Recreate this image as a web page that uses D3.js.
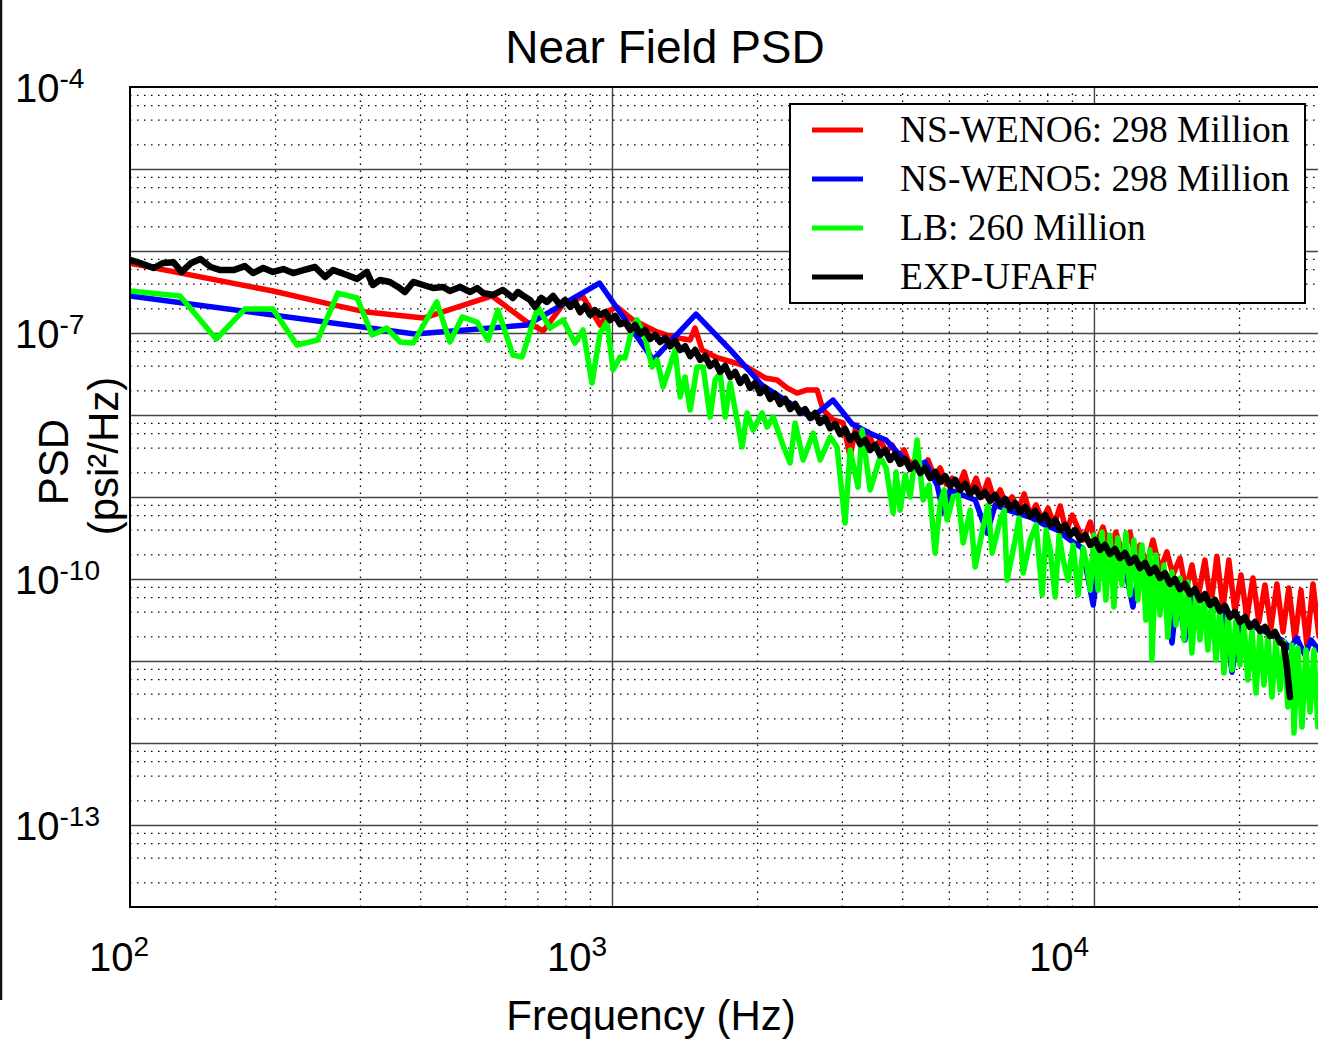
<!DOCTYPE html>
<html>
<head>
<meta charset="utf-8">
<style>
body {margin:0; background:#fff;}
svg {display:block;}
</style>
</head>
<body>
<div id="chart"></div>
<script src="https://d3js.org/d3.v7.min.js"></script>
<script>
// values: [frequency (Hz), PSD (psi^2/Hz)]
var weno6 = [[100,7.1e-7],[198,3.25e-7],[264,2.2e-7],[310,1.8e-7],[406,1.52e-7],[564,2.83e-7],[666,1.36e-7],[720,1.06e-7],[799,2.39e-7],[871,2.75e-7],
  [945,1.25e-7],[991,1.9e-7],[1024,2.08e-7],[1106,1.44e-7],[1240,1.03e-7],[1339,8.9e-8],[1453,8.2e-8],[1487,1.15e-7],[1538,6.2e-8],[1652,5.0e-8],
  [1784,4.4e-8],[1907,3.85e-8],[2078,2.83e-8],[2200,2.67e-8],[2308,2.14e-8],[2421,1.85e-8],[2540,2.02e-8],[2664,2.02e-8],[2742,1.15e-8],[2877,8.7e-9],
  [3017,8.0e-9],[3120,3.07e-9],[3210,7.55e-9],[3304,4.96e-9],[3399,6.2e-9],[3499,3.96e-9],[3601,4.96e-9],[3705,3.54e-9],[3814,4.31e-9],[3922,2.99e-9],
  [4038,3.74e-9],[4156,2.39e-9],[4276,2.99e-9],[4401,2.14e-9],[4527,2.83e-9],[4661,1.8e-9],[4797,2.26e-9],[4935,1.44e-9],[5080,1.7e-9],[5225,1.28e-9],
  [5379,2.02e-9],[5536,1.12e-9],[5696,1.7e-9],[5863,1.0e-9],[6030,1.62e-9],[6208,9.2e-10],[6390,1.22e-9],[6573,8.0e-10],[6767,1.0e-9],[6960,6.9e-10],
  [7165,1.09e-9],[7375,6.0e-10],[7587,8.0e-10],[7810,5.24e-10],[8032,7.3e-10],[8270,4.56e-10],[8511,7.77e-10],[8756,3.74e-10],[9013,6.0e-10],[9500,2.99e-10],
  [9823,4.96e-10],[10106,2.6e-10],[10439,4.31e-10],[10795,2.26e-10],[11106,3.74e-10],[11486,1.96e-10],[11877,3.74e-10],[12219,1.7e-10],[12459,2.6e-10],[12878,1.48e-10],
  [13256,2.99e-10],[13708,1.28e-10],[14169,2.14e-10],[14586,1.12e-10],[15083,1.8e-10],[15517,7.3e-11],[15973,1.48e-10],[16429,5.85e-11],[16993,1.7e-10],[17492,4.82e-11],
  [17993,1.9e-10],[18523,4.43e-11],[19049,1.7e-10],[19613,3.96e-11],[20187,1.12e-10],[20766,3.35e-11],[21377,1.03e-10],[21984,2.99e-11],[22637,8.45e-11],[23299,2.53e-11],
  [23967,8.7e-11],[24673,2.26e-11],[25374,7.77e-11],[26125,1.8e-11],[26890,7.3e-11],[27661,1.57e-11],[28476,8.7e-11],[29285,2.02e-11]]

var weno5 = [[100,2.83e-7],[390,9.7e-8],[666,1.25e-7],[942,4.07e-7],[1218,4.7e-8],[1494,1.7e-7],[1770,6.0e-8],[2046,2.32e-8],[2322,1.44e-8],[2598,9.2e-9],
  [2874,1.52e-8],[3150,7.77e-9],[3426,6.0e-9],[3702,4.96e-9],[3978,3.16e-9],[4216,2.14e-9],[4464,2.67e-9],[4727,1.4e-9],[4866,6.55e-10],[5032,1.22e-9],
  [5329,1.06e-9],[5669,9.2e-10],[6002,3.64e-10],[6238,8.0e-10],[6635,6.9e-10],[7030,6.2e-10],[7445,5.55e-10],[7921,4.56e-10],[8387,3.96e-10],[8928,2.99e-10],
  [9455,2.39e-10],[9965,4.82e-11],[10291,2.08e-10],[10899,1.8e-10],[11540,1.62e-10],[12048,4.56e-11],[12459,1.4e-10],[13193,1.18e-10],[13905,9.7e-11],[14517,1.66e-11],
  [14931,7.77e-11],[15445,1.8e-11],[15973,6.55e-11],[16834,5.55e-11],[17826,4.56e-11],[18698,3.85e-11],[19337,7.3e-12],[20091,3.16e-11],[21276,2.67e-11],[22318,2.39e-11],
  [23411,2.02e-11],[24556,1.8e-11],[25513,1.44e-11],[26370,1.9e-11],[27404,1.18e-11],[28207,1.8e-11],[29285,1.36e-11]]

var lb = [[100,3.25e-7],[127,2.83e-7],[151,8.45e-8],[173,1.96e-7],[198,1.96e-7],[222,7.14e-8],[245,8.2e-8],[270,3.07e-7],[296,2.67e-7],[318,9.45e-8],
  [341,1.15e-7],[363,7.77e-8],[387,7.55e-8],[433,2.39e-7],[461,7.77e-8],[489,1.57e-7],[525,1.36e-7],[553,8.2e-8],[580,1.9e-7],[623,5.39e-8],
  [651,5.1e-8],[702,2.08e-7],[744,1.15e-7],[792,1.44e-7],[838,7.55e-8],[871,1.09e-7],[909,2.46e-8],[945,1.0e-7],[977,1.36e-7],[1005,3.54e-8],
  [1040,5.1e-8],[1065,4.96e-8],[1101,1.15e-7],[1127,1.44e-7],[1171,8.94e-8],[1211,3.85e-8],[1240,4.7e-8],[1277,2.2e-8],[1352,6.2e-8],[1385,1.66e-8],
  [1418,2.91e-8],[1453,1.15e-8],[1501,3.85e-8],[1546,3.85e-8],[1598,9.45e-9],[1637,2.67e-8],[1677,3.25e-8],[1717,9.45e-9],[1759,2.46e-8],[1862,4.07e-9],
  [1907,1.06e-8],[1963,6.55e-9],[2049,1.06e-8],[2098,7.14e-9],[2160,9.45e-9],[2255,4.56e-9],[2342,2.6e-9],[2399,8.0e-9],[2492,2.83e-9],[2615,6.03e-9],
  [2704,2.83e-9],[2836,5.39e-9],[2931,4.07e-9],[3046,4.82e-10],[3120,3.74e-9],[3240,1.32e-9],[3304,6.55e-9],[3433,1.22e-9],[3601,3.07e-9],[3705,2.26e-9],
  [3832,6.38e-10],[3886,2.02e-9],[3962,6.9e-10],[4057,1.85e-9],[4156,1.0e-9],[4296,4.96e-9],[4422,9.2e-10],[4548,1.4e-9],[4683,2.08e-10],[4797,8.45e-10],
  [4889,1.22e-9],[4958,5.24e-10],[5104,1.0e-9],[5225,1.06e-9],[5354,2.75e-10],[5536,6.9e-10],[5669,1.4e-10],[5891,4.31e-10],[6030,8.0e-10],[6150,2.08e-10],
  [6390,5.24e-10],[6513,6.9e-10],[6604,9.7e-11],[6863,2.99e-10],[6992,5.55e-10],[7132,1.18e-10],[7375,2.99e-10],[7587,4.56e-10],[7810,6.38e-11],[7958,3.96e-10],
  [8114,2.26e-10],[8309,6.03e-11],[8464,3.44e-10],[8634,1.7e-10],[8838,9.7e-11],[9056,2.6e-10],[9271,6.38e-11],[9500,2.39e-10],[9679,1.4e-10],[9823,7.3e-11],
  [10000,3.44e-10],[10200,7.3e-11],[10390,3.74e-10],[10587,5.55e-11],[10795,3.44e-10],[11002,4.56e-11],[11210,3.16e-10],[11432,8.45e-11],[11649,3.64e-10],[11877,6.38e-11],
  [12105,2.99e-10],[12333,5.55e-11],[12579,2.6e-10],[12818,3.16e-11],[13068,2.26e-10],[13193,1.03e-11],[13444,1.96e-10],[13708,3.64e-11],[13971,1.48e-10],[14234,1.96e-11],
  [14517,1.22e-10],[14793,2.75e-11],[15083,1.03e-10],[15373,1.8e-11],[15662,9.2e-11],[15973,1.25e-11],[16277,7.3e-11],[16595,1.8e-11],[16914,6.38e-11],[17232,1.36e-11],
  [17575,5.55e-11],[17909,1.03e-11],[18260,4.56e-11],[18611,7.14e-12],[18961,3.96e-11],[19337,7.77e-12],[19705,3.16e-11],[20091,8.94e-12],[20477,2.83e-11],[20862,5.85e-12],
  [21276,2.39e-11],[21681,4.07e-12],[22106,2.14e-11],[22530,5.1e-12],[22955,2.02e-11],[23411,3.64e-12],[23856,1.8e-11],[24323,4.43e-12],[24790,1.7e-11],[25257,2.75e-12],
  [25758,1.57e-11],[26003,1.32e-12],[26493,1.44e-11],[27019,1.57e-12],[27533,1.36e-11],[28072,2.39e-12],[28611,1.36e-11],[29150,1.57e-12]]

var expUfaff = [[100,7.77e-7],[105,7.14e-7],[112,6.2e-7],[117,7.14e-7],[123,7.3e-7],[128,5.55e-7],[134,7.14e-7],[140,8.0e-7],[147,6.38e-7],[154,5.85e-7],
  [164,5.85e-7],[173,6.55e-7],[180,5.39e-7],[189,6.2e-7],[198,5.55e-7],[208,6.03e-7],[218,5.39e-7],[229,5.85e-7],[242,6.38e-7],[254,4.82e-7],
  [264,5.85e-7],[282,5.1e-7],[296,4.56e-7],[310,5.55e-7],[319,3.85e-7],[330,4.43e-7],[346,4.19e-7],[360,3.64e-7],[372,3.16e-7],[387,4.19e-7],
  [406,3.85e-7],[425,3.54e-7],[446,3.64e-7],[461,3.25e-7],[484,3.64e-7],[508,3.16e-7],[525,3.54e-7],[540,3.07e-7],[567,2.91e-7],[594,3.35e-7],
  [623,2.67e-7],[638,3.16e-7],[651,2.91e-7],[676,2.53e-7],[692,2.08e-7],[713,2.67e-7],[733,2.39e-7],[755,2.83e-7],[780,2.2e-7],[799,2.53e-7],
  [819,2.08e-7],[838,2.39e-7],[859,1.8e-7],[879,2.14e-7],[901,1.66e-7],[922,1.9e-7],[945,1.66e-7],[968,1.8e-7],[991,1.44e-7],[1015,1.62e-7],
  [1040,1.28e-7],[1065,1.36e-7],[1091,1.09e-7],[1117,1.25e-7],[1144,9.7e-8],[1171,1.09e-7],[1200,8.45e-8],[1229,9.45e-8],[1259,7.77e-8],[1289,8.7e-8],
  [1320,6.9e-8],[1352,8.0e-8],[1385,6.2e-8],[1418,6.9e-8],[1453,5.24e-8],[1488,6.2e-8],[1524,4.7e-8],[1560,5.24e-8],[1598,3.96e-8],[1637,4.43e-8],
  [1677,3.35e-8],[1717,3.96e-8],[1759,2.91e-8],[1801,3.35e-8],[1845,2.46e-8],[1889,2.91e-8],[1935,2.14e-8],[1981,2.46e-8],[2030,1.85e-8],[2078,2.14e-8],
  [2129,1.57e-8],[2180,1.8e-8],[2233,1.36e-8],[2287,1.57e-8],[2342,1.18e-8],[2399,1.36e-8],[2457,1.06e-8],[2516,1.18e-8],[2577,9.2e-9],[2639,1.06e-8],
  [2704,8.0e-9],[2768,9.2e-9],[2836,6.9e-9],[2904,7.77e-9],[2975,5.85e-9],[3046,6.75e-9],[3120,4.96e-9],[3195,5.85e-9],[3273,4.43e-9],[3351,4.96e-9],
  [3433,3.74e-9],[3516,4.31e-9],[3601,3.25e-9],[3688,3.74e-9],[3777,2.83e-9],[3868,3.35e-9],[3962,2.53e-9],[4057,2.91e-9],[4156,2.2e-9],[4256,2.6e-9],
  [4360,1.96e-9],[4464,2.26e-9],[4573,1.7e-9],[4683,2.02e-9],[4797,1.52e-9],[4912,1.8e-9],[5032,1.36e-9],[5152,1.62e-9],[5278,1.22e-9],[5405,1.44e-9],
  [5536,1.09e-9],[5669,1.28e-9],[5807,1.0e-9],[5947,1.15e-9],[6091,8.94e-10],[6238,1.06e-9],[6390,8.2e-10],[6543,9.45e-10],[6702,7.3e-10],[6863,8.45e-10],
  [7030,6.55e-10],[7199,7.55e-10],[7375,5.85e-10],[7552,6.75e-10],[7735,5.24e-10],[7921,6.03e-10],[8114,4.56e-10],[8309,5.24e-10],[8511,3.96e-10],[8716,4.56e-10],
  [8928,3.44e-10],[9142,3.96e-10],[9365,2.99e-10],[9590,3.44e-10],[9823,2.6e-10],[10059,2.99e-10],[10291,2.26e-10],[10538,2.6e-10],[10795,2.02e-10],[11054,2.32e-10],
  [11323,1.8e-10],[11595,2.08e-10],[11877,1.57e-10],[12162,1.8e-10],[12459,1.36e-10],[12758,1.57e-10],[13068,1.18e-10],[13382,1.36e-10],[13708,1.03e-10],[14037,1.18e-10],
  [14379,8.7e-11],[14724,1.0e-10],[15083,7.55e-11],[15445,8.7e-11],[15821,6.55e-11],[16201,7.55e-11],[16595,5.55e-11],[16993,6.55e-11],[17408,4.82e-11],[17826,5.55e-11],
  [18260,4.07e-11],[18698,4.7e-11],[19153,3.44e-11],[19613,3.96e-11],[20091,2.99e-11],[20573,3.44e-11],[21074,2.6e-11],[21580,2.99e-11],[22106,2.32e-11],[22637,2.6e-11],
  [23188,2.02e-11],[23745,2.26e-11],[24323,1.7e-11],[24790,1.57e-11],[25140,8.45e-12],[25513,3.64e-12]]

var seriesNames = ["NS-WENO6: 298 Million", "NS-WENO5: 298 Million", "LB: 260 Million", "EXP-UFAFF"]
var seriesColors = ["#ff0000", "#0000ff", "#00ff00", "#000000"]
var xTickVals = [1e2, 1e3, 1e4]
var xTickExp = ["2", "3", "4"]
var yTickVals = [1e-4, 1e-7, 1e-10, 1e-13]
var yTickExp = ["-4", "-7", "-10", "-13"]

var width = 1318, height = 1039
var plotL = 130, plotT = 87, plotR = 1320, plotB = 907

var x = d3.scaleLog().domain([100, 29446]).range([plotL, plotR])
var y = d3.scaleLog().domain([1e-14, 1e-4]).range([plotB, plotT])

var svg = d3.select("#chart").append("svg")
    .attr("width", width)
    .attr("height", height)
    .style("background", "#fff")

// thin border at the left edge of the slide
svg.append("line").attr("x1", 1).attr("x2", 1).attr("y1", 0).attr("y2", 1000)
    .attr("stroke", "#111").attr("stroke-width", 2.5)

// grid values
var yMinor = [], yMajor = [], xMinor = []
for (var e = -14; e < -4; e++) {
  [2, 4, 6, 8].forEach(function(m) { yMinor.push(m * Math.pow(10, e)) })
  if (e > -14) yMajor.push(Math.pow(10, e))
}
for (var e = 2; e <= 4; e++) {
  for (var m = 2; m <= 9; m++) {
    var v = m * Math.pow(10, e)
    if (v < 29000) xMinor.push(v)
  }
}

var grid = svg.append("g")
grid.append("g").attr("transform", "translate(" + plotL + ",0)")
    .call(d3.axisLeft(y).tickValues(yMinor).tickSize(-(plotR - plotL)).tickFormat(""))
grid.append("g").attr("transform", "translate(0," + plotB + ")")
    .call(d3.axisBottom(x).tickValues(xMinor).tickSize(-(plotB - plotT)).tickFormat(""))
grid.selectAll("line")
    .attr("stroke", "#000")
    .attr("stroke-width", 1.3)
    .attr("stroke-dasharray", "1.5,5.5")

var major = svg.append("g")
major.append("g").attr("transform", "translate(" + plotL + ",0)")
    .call(d3.axisLeft(y).tickValues(yMajor).tickSize(-(plotR - plotL)).tickFormat(""))
major.append("g").attr("transform", "translate(0," + plotB + ")")
    .call(d3.axisBottom(x).tickValues([1e3, 1e4]).tickSize(-(plotB - plotT)).tickFormat(""))
major.selectAll("line").attr("stroke", "#444").attr("stroke-width", 1.4)
svg.selectAll(".domain").remove()

// clip to the plotting area
svg.append("clipPath").attr("id", "plotclip")
  .append("rect").attr("x", plotL).attr("y", plotT).attr("width", plotR - plotL).attr("height", plotB - plotT)

var line = d3.line()
    .x(function(d) { return x(d[0]) })
    .y(function(d) { return y(d[1]) })

var allSeries = [weno6, weno5, lb, expUfaff]
svg.append("g").attr("clip-path", "url(#plotclip)")
  .selectAll("path")
  .data(allSeries)
  .enter()
  .append("path")
    .attr("d", line)
    .attr("fill", "none")
    .attr("stroke", function(d, i) { return seriesColors[i] })
    .attr("stroke-width", function(d, i) { return i == 3 ? 6.5 : 5.5 })
    .attr("stroke-linejoin", "round")
    .attr("stroke-linecap", "round")

// frame
svg.append("line").attr("x1", plotL).attr("x2", plotL).attr("y1", plotT - 1).attr("y2", plotB + 1)
    .attr("stroke", "#000").attr("stroke-width", 2)
svg.append("line").attr("x1", plotL).attr("x2", width).attr("y1", plotT).attr("y2", plotT)
    .attr("stroke", "#000").attr("stroke-width", 2)
svg.append("line").attr("x1", plotL).attr("x2", width).attr("y1", plotB).attr("y2", plotB)
    .attr("stroke", "#000").attr("stroke-width", 2)

// tick labels
var xl = svg.selectAll(".xlab")
  .data(xTickVals)
  .enter()
  .append("text")
    .attr("x", function(d) { return x(d) + (d == 100 ? -11 : -35) })
    .attr("y", 971)
    .attr("text-anchor", "middle")
    .style("font-family", "Liberation Sans, Arial, sans-serif")
    .style("font-size", "40px")
    .text("10")
xl.append("tspan").attr("dy", -15).style("font-size", "28px").text(function(d, i) { return xTickExp[i] })

var yl = svg.selectAll(".ylab")
  .data(yTickVals)
  .enter()
  .append("text")
    .attr("x", 15)
    .attr("y", function(d) { return y(d) + 15 })
    .style("font-family", "Liberation Sans, Arial, sans-serif")
    .style("font-size", "40px")
    .text("10")
yl.append("tspan").attr("dy", -14).style("font-size", "28px").text(function(d, i) { return yTickExp[i] })

// titles
svg.append("text")
    .attr("x", 665).attr("y", 63)
    .attr("text-anchor", "middle")
    .style("font-family", "Liberation Sans, Arial, sans-serif")
    .style("font-size", "46px")
    .text("Near Field PSD")

svg.append("text")
    .attr("x", 651).attr("y", 1030)
    .attr("text-anchor", "middle")
    .style("font-family", "Liberation Sans, Arial, sans-serif")
    .style("font-size", "42px")
    .text("Frequency (Hz)")

svg.append("text")
    .attr("transform", "translate(68,462) rotate(-90)")
    .attr("text-anchor", "middle")
    .style("font-family", "Liberation Sans, Arial, sans-serif")
    .style("font-size", "42px")
    .text("PSD")

svg.append("text")
    .attr("transform", "translate(118,456) rotate(-90)")
    .attr("text-anchor", "middle")
    .style("font-family", "Liberation Sans, Arial, sans-serif")
    .style("font-size", "42px")
    .text("(psi²/Hz)")

// legend
var legend = svg.append("g")
legend.append("rect")
    .attr("x", 790).attr("y", 104).attr("width", 515).attr("height", 199)
    .attr("fill", "#fff").attr("stroke", "#000").attr("stroke-width", 2)

var rows = legend.selectAll(".row")
  .data(seriesNames)
  .enter()
  .append("g")
    .attr("transform", function(d, i) { return "translate(0," + (130 + i * 49) + ")" })
rows.append("line")
    .attr("x1", 812).attr("x2", 863)
    .attr("stroke", function(d, i) { return seriesColors[i] })
    .attr("stroke-width", 5)
rows.append("text")
    .attr("x", 900).attr("y", 12)
    .style("font-family", "Liberation Serif, Times New Roman, serif")
    .style("font-size", "37.5px")
    .text(function(d) { return d })
</script>
</body>
</html>
